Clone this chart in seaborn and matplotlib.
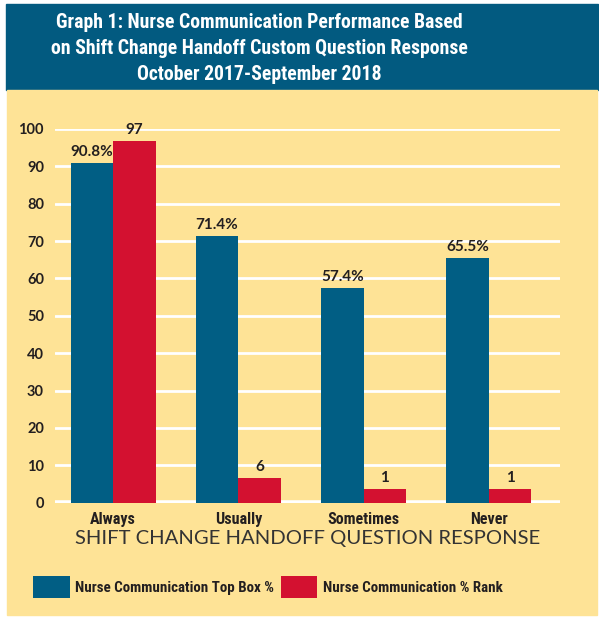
import matplotlib
matplotlib.use("Agg")
import matplotlib.pyplot as plt
from matplotlib.patches import Rectangle
import seaborn as sns
import pandas as pd

categories = ["Always", "Usually", "Sometimes", "Never"]
series_names = ["Nurse Communication Top Box %", "Nurse Communication % Rank"]
top_box = [90.8, 71.4, 57.4, 65.5]
top_box_labels = ["90.8%", "71.4%", "57.4%", "65.5%"]
rank_bar = [96.7, 6.6, 3.7, 3.7]
rank_labels = ["97", "6", "1", "1"]
yticks = [0, 10, 20, 30, 40, 50, 60, 70, 80, 90, 100]

title_lines = ["Graph 1: Nurse Communication Performance Based",
               "on Shift Change Handoff Custom Question Response",
               "October 2017-September 2018"]
xlabel = "SHIFT CHANGE HANDOFF QUESTION RESPONSE"

BLUE = "#015e84"
RED = "#d31130"
BANNER = "#025a80"
YELLOW = "#fee396"
DARK = "#231f20"

COND = ["Roboto Condensed", "Liberation Sans", "DejaVu Sans"]
GEO = ["Lato", "Liberation Sans", "DejaVu Sans"]

df = pd.DataFrame({
    "response": categories * 2,
    "value": top_box + rank_bar,
    "series": [series_names[0]] * 4 + [series_names[1]] * 4,
})

sns.set_style("white")
plt.rcParams["font.family"] = GEO

W, H = 599, 618
fig = plt.figure(figsize=(W / 100, H / 100), dpi=100, facecolor="white")

# background panels
fig.patches.append(Rectangle((6 / W, 1 - 90 / H), (598 - 6) / W, (90 - 4) / H,
                             transform=fig.transFigure, color=BANNER, zorder=-10))
fig.patches.append(Rectangle((7 / W, 1 - 615 / H), (597 - 7) / W, (615 - 90) / H,
                             transform=fig.transFigure, color=YELLOW, zorder=-10))

for i, line in enumerate(title_lines):
    fig.text(259 / W, 1 - (23 + 25.5 * i) / H, line, ha="center", va="center",
             color="white", fontsize=14.2, fontweight="bold", family=COND)

ax = fig.add_axes([55 / W, 1 - 502.7 / H, 505 / W, (502.7 - 129) / H])
ax.set_facecolor("none")

sns.barplot(data=df, x="response", y="value", hue="series", order=categories,
            hue_order=series_names, palette=[BLUE, RED], width=0.68,
            saturation=1, ax=ax, zorder=3, legend=True, linewidth=0)

ax.set_xlim(-0.464, 3.568)
ax.set_ylim(0, 100)
ax.set_yticks(yticks)
for y in yticks[1:]:
    ax.axhline(y, color="white", lw=2, zorder=1)
ax.axhline(0, color="white", lw=4, zorder=1)
for s in ax.spines.values():
    s.set_visible(False)
ax.tick_params(axis="both", length=0)
ax.tick_params(axis="y", pad=8, labelcolor=DARK)
ax.tick_params(axis="x", pad=7, labelcolor=DARK)
for t in ax.get_yticklabels():
    t.set_fontweight("bold")
    t.set_fontsize(10.5)
for t in ax.get_xticklabels():
    t.set_family(COND)
    t.set_fontweight("bold")
    t.set_fontsize(11.5)
ax.set_ylabel("")
ax.set_xlabel(xlabel, fontsize=14.6, color="#333333", labelpad=2,
              family=GEO, fontweight="normal")

label_sets = [top_box_labels, rank_labels]
for cont, labs in zip(ax.containers, label_sets):
    ax.bar_label(cont, labels=labs, padding=3, fontsize=11, fontweight="bold",
                 color=DARK, clip_on=False)

handles, labels = ax.get_legend_handles_labels()
ax.legend_.remove()
fig.legend(handles, labels, loc="center left", bbox_to_anchor=(27 / W, 1 - 587 / H),
           ncol=2, frameon=False, handlelength=2.45, handleheight=1.95,
           handletextpad=0.35, columnspacing=0.45, borderaxespad=0,
           prop={"family": COND, "weight": "bold", "size": 10.8}, labelcolor=DARK)

fig.savefig("out.png", dpi=100, facecolor="white")
